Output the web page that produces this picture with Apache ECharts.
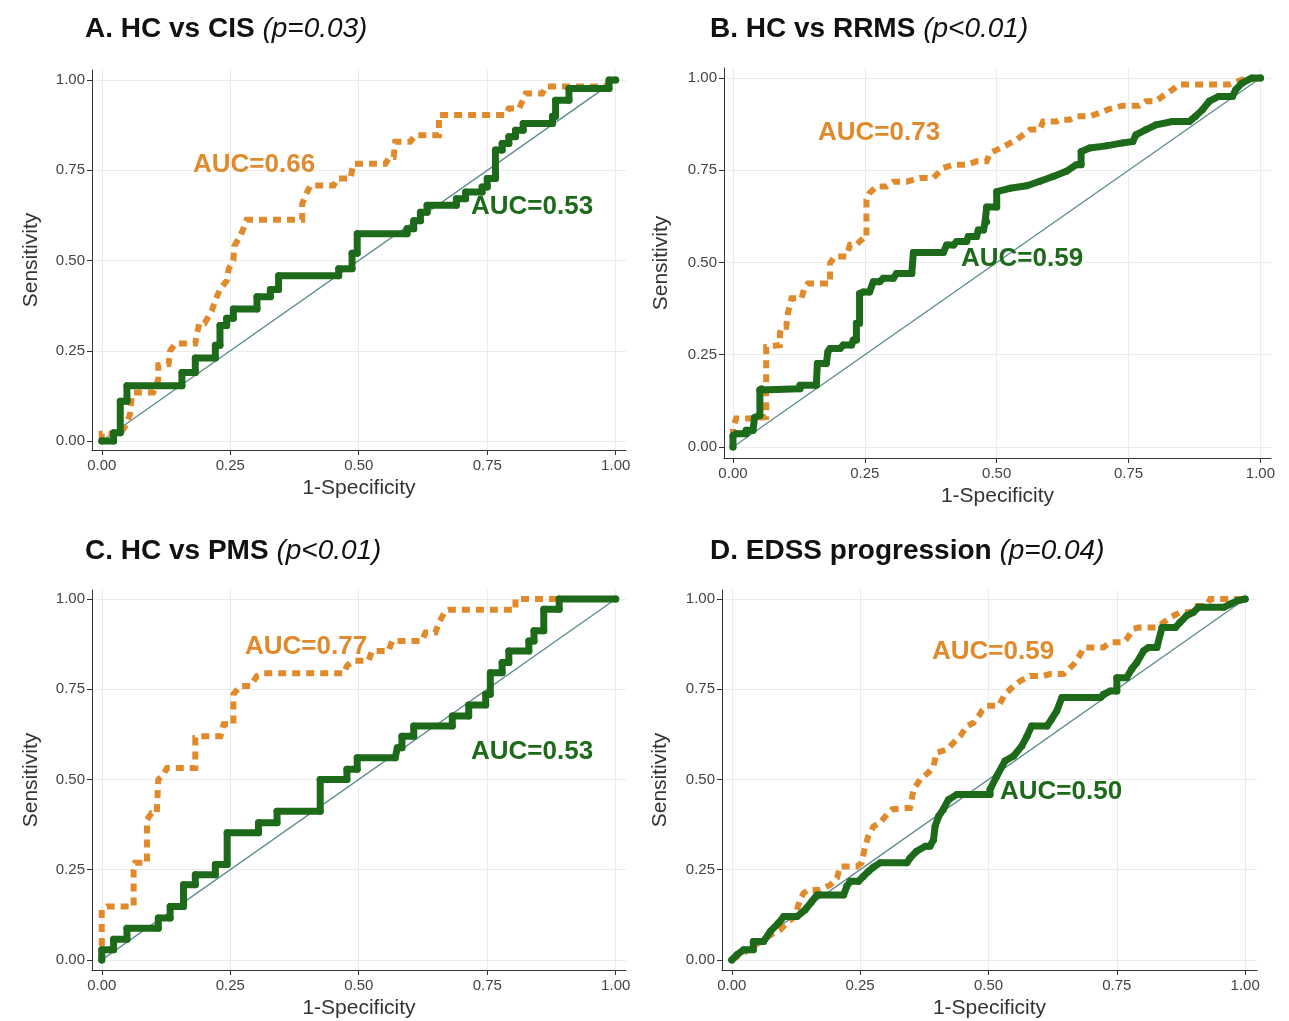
<!DOCTYPE html>
<html>
<head>
<meta charset="utf-8">
<script src="https://cdn.jsdelivr.net/npm/echarts@6/dist/echarts.min.js"></script>
<style>
html,body{margin:0;padding:0;background:#fff;}
#chart{width:1289px;height:1021px;}
</style>
</head>
<body>
<div id="chart"></div>
<script>
// ---- Data (1-Specificity, Sensitivity) ----
const tickValues = [0, 0.25, 0.5, 0.75, 1];
const panelTitles = ['A. HC vs CIS', 'B. HC vs RRMS', 'C. HC vs PMS', 'D. EDSS progression'];
const panelPValues = ['(p=0.03)', '(p<0.01)', '(p<0.01)', '(p=0.04)'];
const aucOrange = ['AUC=0.66', 'AUC=0.73', 'AUC=0.77', 'AUC=0.59'];
const aucGreen = ['AUC=0.53', 'AUC=0.59', 'AUC=0.53', 'AUC=0.50'];
const diagonal = [[0, 0], [1, 1]];

const greenA = [[0,0],[0.023,0],[0.023,0.023],[0.036,0.023],[0.036,0.11],[0.049,0.11],[0.049,0.153],[0.156,0.153],[0.156,0.19],[0.182,0.19],[0.182,0.23],[0.221,0.23],[0.221,0.265],[0.23,0.265],[0.23,0.32],[0.243,0.32],[0.243,0.34],[0.256,0.34],[0.256,0.366],[0.302,0.366],[0.302,0.40],[0.328,0.40],[0.328,0.42],[0.344,0.42],[0.344,0.458],[0.461,0.458],[0.461,0.477],[0.487,0.477],[0.487,0.52],[0.497,0.52],[0.497,0.574],[0.594,0.574],[0.594,0.588],[0.607,0.588],[0.607,0.61],[0.62,0.61],[0.62,0.634],[0.633,0.634],[0.633,0.653],[0.69,0.653],[0.69,0.671],[0.708,0.671],[0.708,0.69],[0.74,0.69],[0.74,0.704],[0.75,0.704],[0.75,0.727],[0.766,0.727],[0.766,0.806],[0.779,0.806],[0.779,0.824],[0.792,0.824],[0.792,0.843],[0.805,0.843],[0.805,0.861],[0.82,0.861],[0.82,0.88],[0.877,0.88],[0.877,0.9],[0.883,0.9],[0.883,0.944],[0.909,0.944],[0.909,0.977],[0.987,0.977],[0.987,1],[1,1]];
const orangeA = [[0,0],[0,0.02],[0.036,0.02],[0.045,0.04],[0.055,0.074],[0.058,0.12],[0.062,0.134],[0.1,0.134],[0.11,0.17],[0.11,0.21],[0.13,0.213],[0.133,0.25],[0.143,0.27],[0.182,0.27],[0.185,0.296],[0.19,0.326],[0.2,0.326],[0.214,0.36],[0.221,0.39],[0.23,0.42],[0.243,0.444],[0.247,0.477],[0.256,0.5],[0.258,0.54],[0.27,0.57],[0.276,0.59],[0.282,0.613],[0.39,0.613],[0.39,0.657],[0.398,0.685],[0.406,0.708],[0.451,0.708],[0.458,0.727],[0.484,0.727],[0.487,0.75],[0.49,0.768],[0.552,0.768],[0.56,0.787],[0.568,0.787],[0.571,0.829],[0.6,0.829],[0.61,0.847],[0.656,0.847],[0.656,0.903],[0.786,0.903],[0.792,0.921],[0.812,0.921],[0.825,0.963],[0.857,0.963],[0.864,0.982],[0.98,0.982],[0.99,1],[1,1]];

const greenB = [[0,0],[0,0.03],[0.006,0.036],[0.025,0.036],[0.025,0.045],[0.038,0.045],[0.041,0.08],[0.051,0.085],[0.051,0.154],[0.054,0.158],[0.127,0.158],[0.127,0.167],[0.158,0.167],[0.16,0.226],[0.177,0.226],[0.18,0.258],[0.184,0.267],[0.203,0.267],[0.209,0.276],[0.225,0.276],[0.228,0.29],[0.234,0.29],[0.234,0.335],[0.24,0.335],[0.24,0.416],[0.247,0.42],[0.259,0.42],[0.266,0.448],[0.278,0.448],[0.285,0.457],[0.304,0.457],[0.31,0.47],[0.339,0.47],[0.342,0.527],[0.399,0.527],[0.405,0.547],[0.418,0.547],[0.424,0.557],[0.443,0.557],[0.446,0.57],[0.462,0.57],[0.465,0.588],[0.475,0.588],[0.478,0.61],[0.481,0.61],[0.481,0.65],[0.5,0.65],[0.5,0.692],[0.525,0.701],[0.557,0.708],[0.582,0.72],[0.607,0.733],[0.632,0.747],[0.651,0.765],[0.66,0.765],[0.66,0.8],[0.676,0.81],[0.708,0.816],[0.739,0.824],[0.758,0.828],[0.764,0.846],[0.783,0.86],[0.802,0.873],[0.833,0.882],[0.865,0.882],[0.877,0.896],[0.89,0.914],[0.903,0.937],[0.921,0.95],[0.947,0.95],[0.953,0.968],[0.965,0.986],[0.984,1],[1,1]];
const orangeB = [[0,0.027],[0,0.054],[0.006,0.077],[0.032,0.077],[0.035,0.081],[0.063,0.081],[0.063,0.271],[0.089,0.276],[0.089,0.308],[0.092,0.326],[0.101,0.326],[0.104,0.362],[0.111,0.403],[0.13,0.403],[0.136,0.434],[0.142,0.443],[0.184,0.443],[0.184,0.498],[0.193,0.516],[0.215,0.516],[0.222,0.548],[0.234,0.548],[0.247,0.566],[0.253,0.566],[0.253,0.67],[0.259,0.688],[0.272,0.706],[0.291,0.706],[0.304,0.719],[0.329,0.719],[0.354,0.729],[0.38,0.729],[0.386,0.738],[0.399,0.756],[0.418,0.765],[0.443,0.765],[0.462,0.774],[0.481,0.774],[0.487,0.796],[0.5,0.805],[0.513,0.814],[0.538,0.833],[0.563,0.86],[0.582,0.86],[0.588,0.882],[0.613,0.882],[0.619,0.887],[0.638,0.887],[0.651,0.896],[0.676,0.896],[0.695,0.905],[0.714,0.916],[0.739,0.925],[0.77,0.925],[0.783,0.937],[0.802,0.937],[0.814,0.95],[0.833,0.968],[0.846,0.982],[0.94,0.982],[0.965,0.995],[1,1]];

const greenC = [[0,0],[0,0.028],[0.023,0.028],[0.023,0.057],[0.049,0.057],[0.049,0.088],[0.11,0.088],[0.11,0.116],[0.133,0.116],[0.133,0.148],[0.159,0.148],[0.159,0.208],[0.182,0.208],[0.182,0.236],[0.221,0.236],[0.221,0.264],[0.244,0.264],[0.244,0.352],[0.305,0.352],[0.305,0.38],[0.341,0.38],[0.341,0.412],[0.425,0.412],[0.425,0.5],[0.477,0.5],[0.477,0.528],[0.497,0.528],[0.497,0.56],[0.571,0.56],[0.575,0.588],[0.584,0.588],[0.584,0.62],[0.607,0.62],[0.607,0.648],[0.682,0.648],[0.682,0.676],[0.714,0.676],[0.714,0.706],[0.747,0.706],[0.747,0.736],[0.756,0.736],[0.756,0.796],[0.779,0.796],[0.779,0.824],[0.792,0.824],[0.792,0.856],[0.831,0.856],[0.831,0.884],[0.841,0.884],[0.841,0.912],[0.86,0.912],[0.86,0.972],[0.89,0.972],[0.89,1],[1,1]];
const orangeC = [[0,0],[0,0.139],[0.01,0.148],[0.062,0.148],[0.062,0.25],[0.065,0.269],[0.088,0.269],[0.088,0.389],[0.097,0.407],[0.107,0.407],[0.11,0.5],[0.12,0.514],[0.127,0.532],[0.182,0.532],[0.182,0.616],[0.192,0.62],[0.231,0.62],[0.237,0.653],[0.256,0.653],[0.256,0.736],[0.269,0.759],[0.289,0.759],[0.302,0.787],[0.315,0.794],[0.471,0.794],[0.477,0.815],[0.49,0.829],[0.519,0.829],[0.526,0.856],[0.558,0.856],[0.565,0.884],[0.623,0.884],[0.63,0.907],[0.649,0.907],[0.656,0.935],[0.669,0.968],[0.675,0.97],[0.805,0.97],[0.805,1],[1,1]];

const greenD = [[0,0],[0.01,0.014],[0.023,0.028],[0.042,0.028],[0.042,0.051],[0.062,0.051],[0.075,0.079],[0.091,0.102],[0.101,0.12],[0.127,0.12],[0.143,0.139],[0.156,0.162],[0.166,0.18],[0.218,0.18],[0.224,0.204],[0.231,0.218],[0.247,0.218],[0.256,0.231],[0.266,0.245],[0.276,0.257],[0.289,0.269],[0.341,0.269],[0.347,0.282],[0.36,0.301],[0.377,0.315],[0.386,0.315],[0.393,0.333],[0.396,0.37],[0.403,0.398],[0.412,0.417],[0.422,0.444],[0.438,0.458],[0.503,0.458],[0.503,0.472],[0.516,0.509],[0.532,0.551],[0.549,0.565],[0.565,0.593],[0.575,0.62],[0.584,0.648],[0.614,0.648],[0.623,0.667],[0.633,0.69],[0.643,0.727],[0.718,0.727],[0.724,0.736],[0.737,0.745],[0.75,0.745],[0.75,0.782],[0.769,0.782],[0.779,0.806],[0.789,0.824],[0.802,0.856],[0.812,0.866],[0.828,0.866],[0.838,0.921],[0.864,0.921],[0.873,0.935],[0.886,0.954],[0.899,0.963],[0.909,0.977],[0.958,0.977],[0.971,0.986],[0.984,0.995],[1,1]];
const orangeD = [[0,0],[0.023,0.019],[0.042,0.037],[0.062,0.056],[0.081,0.074],[0.094,0.083],[0.11,0.106],[0.123,0.12],[0.133,0.167],[0.14,0.185],[0.149,0.194],[0.172,0.194],[0.192,0.208],[0.205,0.227],[0.211,0.259],[0.244,0.259],[0.253,0.269],[0.26,0.315],[0.266,0.343],[0.276,0.37],[0.289,0.38],[0.302,0.403],[0.312,0.417],[0.341,0.421],[0.347,0.421],[0.351,0.449],[0.354,0.472],[0.367,0.5],[0.383,0.519],[0.393,0.537],[0.399,0.574],[0.419,0.583],[0.432,0.602],[0.445,0.62],[0.458,0.648],[0.471,0.657],[0.481,0.676],[0.487,0.69],[0.497,0.704],[0.52,0.704],[0.532,0.736],[0.549,0.759],[0.562,0.773],[0.581,0.787],[0.607,0.787],[0.62,0.792],[0.646,0.792],[0.666,0.819],[0.679,0.847],[0.686,0.866],[0.724,0.866],[0.737,0.88],[0.763,0.88],[0.769,0.889],[0.782,0.917],[0.792,0.921],[0.828,0.921],[0.841,0.935],[0.854,0.949],[0.873,0.963],[0.893,0.963],[0.906,0.981],[0.925,0.981],[0.932,1],[1,1]];

const greenSeries = [greenA, greenB, greenC, greenD];
const orangeSeries = [orangeA, orangeB, orangeC, orangeD];

// ---- Layout (pixels) ----
const FONT = '"Liberation Sans", Arial, Helvetica, sans-serif';
const ORANGE = '#e08a2c';
const GREEN = '#1d6a1a';
const grids = [
  {left: 92,  top: 70, width: 534, height: 380, xr: [-0.019, 1.02], yr: [-0.025, 1.028]},
  {left: 724, top: 68, width: 547, height: 390, xr: [-0.017, 1.02], yr: [-0.03, 1.027]},
  {left: 92,  top: 590, width: 534, height: 380, xr: [-0.019, 1.02], yr: [-0.028, 1.025]},
  {left: 722, top: 590, width: 535, height: 380, xr: [-0.019, 1.023], yr: [-0.028, 1.025]}
];
const titlePos = [[85, 15], [710, 15], [85, 537], [710, 537]];
const orangeLabelPos = [[193, 165], [818, 133], [245, 647], [932, 652]];
const greenLabelPos = [[471, 207], [961, 259], [471, 752], [1000, 792]];
const yNameGap = [50, 52, 50, 51];

const chart = echarts.init(document.getElementById('chart'), null, {renderer: 'canvas'});

const option = {
  animation: false,
  backgroundColor: '#ffffff',
  textStyle: {fontFamily: FONT},
  title: panelTitles.map((t, i) => ({
    left: titlePos[i][0], top: titlePos[i][1], padding: 0,
    text: '{b|' + t + '} {i|' + panelPValues[i] + '}',
    textStyle: {
      fontSize: 28, fontFamily: FONT, color: '#111', fontWeight: 'normal',
      rich: {
        b: {fontSize: 28, fontWeight: 'bold', fontFamily: FONT, color: '#111'},
        i: {fontSize: 28, fontStyle: 'italic', fontWeight: 'normal', fontFamily: FONT, color: '#111'}
      }
    }
  })),
  grid: grids.map(g => ({left: g.left, top: g.top, width: g.width, height: g.height, containLabel: false})),
  xAxis: grids.map((g, i) => ({
    type: 'value', gridIndex: i, min: g.xr[0], max: g.xr[1],
    name: '1-Specificity', nameLocation: 'middle', nameGap: 28,
    nameTextStyle: {fontSize: 21, color: '#333', fontFamily: FONT},
    axisLine: {show: true, onZero: false, lineStyle: {color: '#333', width: 1}},
    axisTick: {show: true, length: 5, customValues: tickValues, lineStyle: {color: '#333'}},
    axisLabel: {customValues: tickValues, formatter: v => v.toFixed(2), fontSize: 15, color: '#444', margin: 8, fontFamily: FONT},
    splitLine: {show: true, lineStyle: {color: '#ebebeb', width: 1}}
  })),
  yAxis: grids.map((g, i) => ({
    type: 'value', gridIndex: i, min: g.yr[0], max: g.yr[1],
    name: 'Sensitivity', nameLocation: 'middle', nameGap: yNameGap[i], nameRotate: 90,
    nameTextStyle: {fontSize: 21, color: '#333', fontFamily: FONT},
    axisLine: {show: true, onZero: false, lineStyle: {color: '#333', width: 1}},
    axisTick: {show: true, length: 5, customValues: tickValues, lineStyle: {color: '#333'}},
    axisLabel: {customValues: tickValues, formatter: v => v.toFixed(2), fontSize: 15, color: '#444', margin: 7, fontFamily: FONT},
    splitLine: {show: true, lineStyle: {color: '#ebebeb', width: 1}}
  })),
  series: [],
  graphic: []
};

for (let i = 0; i < 4; i++) {
  option.series.push({
    type: 'line', xAxisIndex: i, yAxisIndex: i, data: diagonal, showSymbol: false, silent: true, z: 2,
    lineStyle: {color: '#5b8a8e', width: 1.3}
  });
  option.series.push({
    type: 'line', xAxisIndex: i, yAxisIndex: i, data: orangeSeries[i], showSymbol: false, silent: true, z: 3,
    lineStyle: {color: ORANGE, width: 6, type: [8, 6], cap: 'butt', join: 'miter'}
  });
  option.series.push({
    type: 'line', xAxisIndex: i, yAxisIndex: i, data: greenSeries[i], showSymbol: true, symbol: 'circle', symbolSize: 7, silent: true, z: 4,
    itemStyle: {color: GREEN},
    lineStyle: {color: GREEN, width: 7, cap: 'round', join: 'round'}
  });
  option.graphic.push({
    type: 'text', x: orangeLabelPos[i][0], y: orangeLabelPos[i][1], z: 10,
    style: {text: aucOrange[i], fill: ORANGE, font: 'bold 26px ' + FONT, verticalAlign: 'middle', align: 'left'}
  });
  option.graphic.push({
    type: 'text', x: greenLabelPos[i][0], y: greenLabelPos[i][1], z: 10,
    style: {text: aucGreen[i], fill: GREEN, font: 'bold 26px ' + FONT, verticalAlign: 'middle', align: 'left'}
  });
}

chart.setOption(option);
</script>
</body>
</html>
